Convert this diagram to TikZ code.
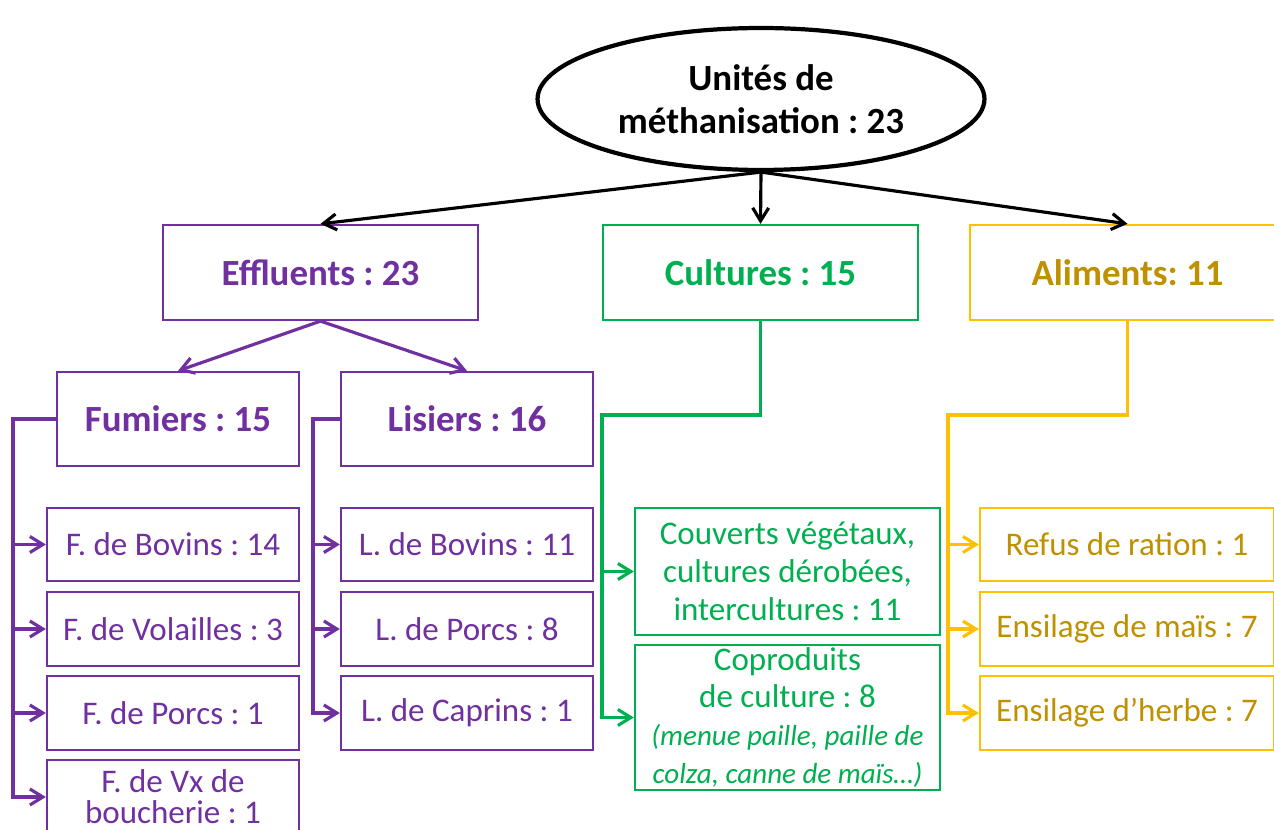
\documentclass[tikz,border=0pt]{standalone}
\usepackage{fontspec}
\setmainfont{Carlito}
\usetikzlibrary{shapes.geometric, arrows.meta, positioning}
\definecolor{effpurple}{RGB}{112, 48, 160}
\definecolor{cultgreen}{RGB}{0, 176, 80}
\definecolor{alimgold}{RGB}{255, 192, 0}
\definecolor{alimtext}{RGB}{191, 144, 0}
\newcommand{\notetext}{\fontsize{16.5}{20.5}\selectfont\itshape}
\frenchspacing

\begin{document}
\begin{tikzpicture}[
        x=0.02cm, y=-0.02cm,
        root/.style={ellipse, draw, line width=2.4pt, minimum width=8.94cm, minimum height=2.84cm, inner sep=0pt, align=center, font=\fontsize{21}{24.5}\selectfont\bfseries},
        head/.style={rectangle, draw, line width=1.3pt, minimum width=6.3cm, minimum height=1.9cm, inner sep=0pt, align=center, font=\fontsize{21}{24.5}\selectfont\bfseries},
        box/.style={rectangle, draw, line width=1.3pt, minimum width=5.04cm, minimum height=1.47cm, inner sep=0pt, align=center, font=\fontsize{18.8}{21.6}\selectfont},
        arrow/.style={-{Straight Barb[length=2.6mm, width=3.2mm]}, line width=1.8pt}
    ]
        \clip (0,0) rectangle (1274,830);

        % Top: total number of units
        \node[root] (root) at (761,99) {Unités de\\méthanisation : 23};

        % Row 1: the three input families
        \node[head, effpurple] (eff) at (320.5,272.5) {Effluents : 23};
        \node[head, cultgreen] (cult) at (760.5,272.5) {Cultures : 15};
        \node[head, alimgold, text=alimtext] (alim) at (1127.5,272.5) {Aliments: 11};

        % Row 2: manure types
        \node[head, effpurple, minimum width=4.84cm, minimum height=1.88cm] (fum) at (178,419) {Fumiers : 15};
        \node[head, effpurple, minimum width=5.04cm, minimum height=1.88cm] (lis) at (467,419) {Lisiers : 16};

        % Fumiers details
        \node[box, effpurple] (fbov) at (173,544.5) {F. de Bovins : 14};
        \node[box, effpurple] (fvol) at (173,629) {F. de Volailles : 3};
        \node[box, effpurple] (fpor) at (173,713) {F. de Porcs : 1};
        \node[box, effpurple] (fvx) at (173,797) {F. de Vx de\\[-4pt]boucherie : 1};

        % Lisiers details
        \node[box, effpurple] (lbov) at (467,544.5) {L. de Bovins : 11};
        \node[box, effpurple] (lpor) at (467,629) {L. de Porcs : 8};
        \node[box, effpurple] (lcap) at (467,713) {L. de Caprins : 1};

        % Cultures details
        \node[box, cultgreen, minimum width=6.1cm, minimum height=2.54cm] (couv) at (787.5,571.5) {Couverts végétaux,\\cultures dérobées,\\intercultures : 11};
        \node[box, cultgreen, minimum width=6.1cm, minimum height=2.9cm] (copr) at (787.5,717.5) {Coproduits\\de culture : 8\\{\notetext (menue paille, paille de}\\{\notetext colza, canne de maïs…)}};

        % Aliments details
        \node[box, alimgold, text=alimtext, minimum width=5.88cm] (refus) at (1127,544.5) {Refus de ration : 1};
        \node[box, alimgold, text=alimtext, minimum width=5.88cm] (mais) at (1127,629) {Ensilage de maïs : 7};
        \node[box, alimgold, text=alimtext, minimum width=5.88cm] (herbe) at (1127,713) {Ensilage d’herbe : 7};

        % Spines for the elbow connectors
        \coordinate (fspine) at (13,0);
        \coordinate (lspine) at (313,0);
        \coordinate (cknee) at (602,415);
        \coordinate (aknee) at (948,415);

        % Arrows - root to families
        \draw[arrow] (root.south) -- (eff.north);
        \draw[arrow] (root.south) -- (cult.north);
        \draw[arrow] (root.south) -- (alim.north);

        % Effluents split
        \draw[arrow, effpurple] (eff.south) -- (fum.north);
        \draw[arrow, effpurple] (eff.south) -- (lis.north);

        % Elbow arrows to the detail boxes
        \foreach \n in {fbov, fvol, fpor, fvx}
            \draw[arrow, effpurple] (fum.west) -- (fum.west -| fspine) |- (\n.west);
        \foreach \n in {lbov, lpor, lcap}
            \draw[arrow, effpurple] (lis.west) -- (lis.west -| lspine) |- (\n.west);
        \foreach \n in {couv, copr}
            \draw[arrow, cultgreen] (cult.south) |- (cknee) |- (\n.west);
        \foreach \n in {refus, mais, herbe}
            \draw[arrow, alimgold] (alim.south) |- (aknee) |- (\n.west);
    \end{tikzpicture}
\end{document}
